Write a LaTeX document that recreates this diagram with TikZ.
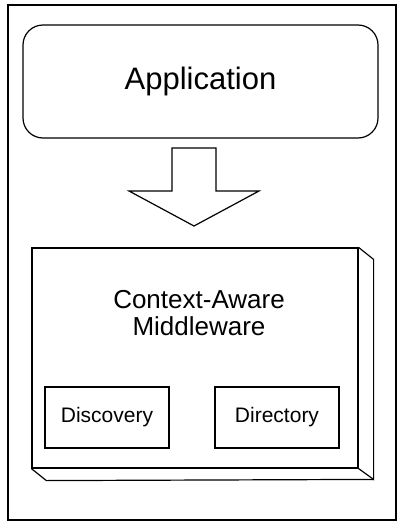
\documentclass[tikz,border=0pt]{standalone}
\usepackage{fontspec}
\setmainfont{Liberation Sans}
\begin{document}
\begin{tikzpicture}[x=1pt,y=-1pt,
  line join=miter,
  frame/.style={draw, line width=1.6pt},
  appbox/.style={draw, line width=1.2pt, rounded corners=20pt, minimum width=355pt, minimum height=113pt, inner sep=0pt, font=\fontsize{31}{34}\selectfont},
  blockarrow/.style={draw, line width=1.2pt},
  mwface/.style={draw, line width=1.2pt, minimum width=326pt, minimum height=220pt, inner sep=0pt},
  mwside/.style={draw, line width=1.2pt},
  title/.style={anchor=base, inner sep=0pt, font=\fontsize{26}{27}\selectfont},
  subbox/.style={draw, line width=1.1pt, minimum width=124pt, minimum height=61pt, inner sep=0pt, font=\fontsize{21}{24}\selectfont}]
\useasboundingbox (0,0) rectangle (398,522);
\draw[frame] (8,5) rectangle (396,520);
\node[appbox] (app) at (200.5,81.5) {Application};
\draw[blockarrow] (172,148) -- (216,148) -- (216,191) -- (259,191) -- (194,226) -- (129,191) -- (172,191) -- cycle;
\node[mwface] (mw) at (195,358) {};
\draw[mwside] (mw.north east) -- ++(15,12) coordinate (bre) -- ++(0,220) coordinate (brc) -- (mw.south east);
\draw[mwside] (mw.south west) -- ++(15,12) -- (brc);
\node[title] (t1) at (199,308) {Context-Aware};
\node[title] (t2) at (199,335) {Middleware};
\node[subbox] (disc) at (107,417.5) {Discovery};
\node[subbox] (dir) at (277,417.5) {Directory};
\end{tikzpicture}
\end{document}
